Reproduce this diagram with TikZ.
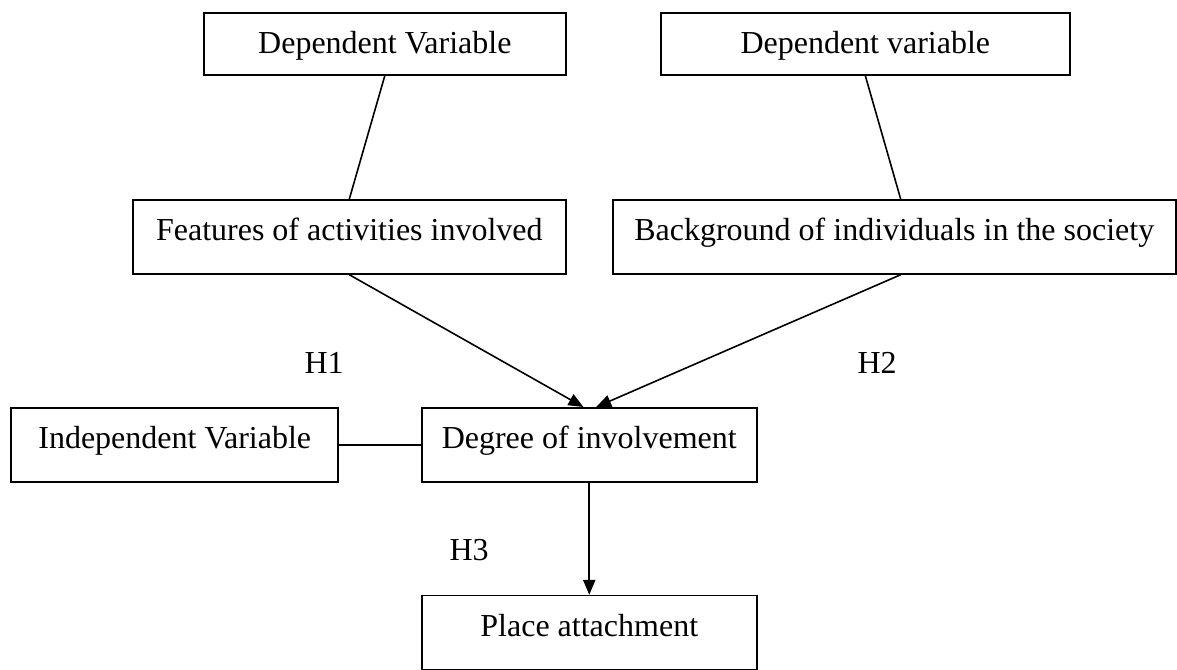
\documentclass[tikz,border=0pt]{standalone}
\usepackage{fontspec}
\setmainfont{Liberation Serif}
\usetikzlibrary{arrows.meta,positioning}
\tikzstyle{varbox} = [rectangle, draw=black, line width=0.6pt, inner sep=0pt, text height=15.4pt, text depth=12.4pt, align=center, font=\fontsize{12}{14}\selectfont]
\tikzstyle{topbox} = [varbox, text depth=7.9pt]
\tikzstyle{link} = [line width=0.6pt]
\tikzstyle{arrow} = [line width=0.6pt, -{Triangle[length=5.6pt,width=4.6pt]}]
\tikzstyle{hyp} = [inner sep=0pt, anchor=base west, font=\fontsize{12}{14}\selectfont]

\begin{document}
\begin{tikzpicture}[x=0.375pt, y=-0.375pt]
\useasboundingbox (0,0) rectangle (1177,669);
% Dependent variables
\node (dep1) [topbox, anchor=north west, minimum width=135.75pt] at (203,12) {Dependent Variable};
\node (dep2) [topbox, anchor=north west, minimum width=153.4pt] at (660,12) {Dependent variable};
\node (features) [varbox, anchor=north west, minimum width=162.4pt] at (132,199) {Features of activities involved};
\node (background) [varbox, anchor=north west, minimum width=211.1pt] at (612,199) {Background of individuals in the society};

% Involvement and outcome
\node (degree) [varbox, anchor=north west, minimum width=125.6pt] at (421,407) {Degree of involvement};
\node (indep) [varbox, left=30.75pt of degree, minimum width=122.6pt] {Independent Variable};
\node (place) [varbox, below=42pt of degree, minimum width=125.6pt] {Place attachment};

% Connectors
\draw[link] (dep1.south) -- (features.north);
\draw[link] (dep2.south) -- ([xshift=2.4pt]background.north);
\draw[arrow] (features.south) -- ([xshift=-2.2pt]degree.north);
\draw[arrow] ([xshift=2.4pt]background.south) -- ([xshift=2.6pt]degree.north);
\draw[link] (indep.east) -- (degree.west);
\draw[arrow] (degree.south) -- (place.north);

% Hypothesis labels
\node (h1) [hyp] at (304,373) {H1};
\node (h2) [hyp] at (857,373) {H2};
\node (h3) [hyp] at (449,560) {H3};
\end{tikzpicture}
\end{document}
